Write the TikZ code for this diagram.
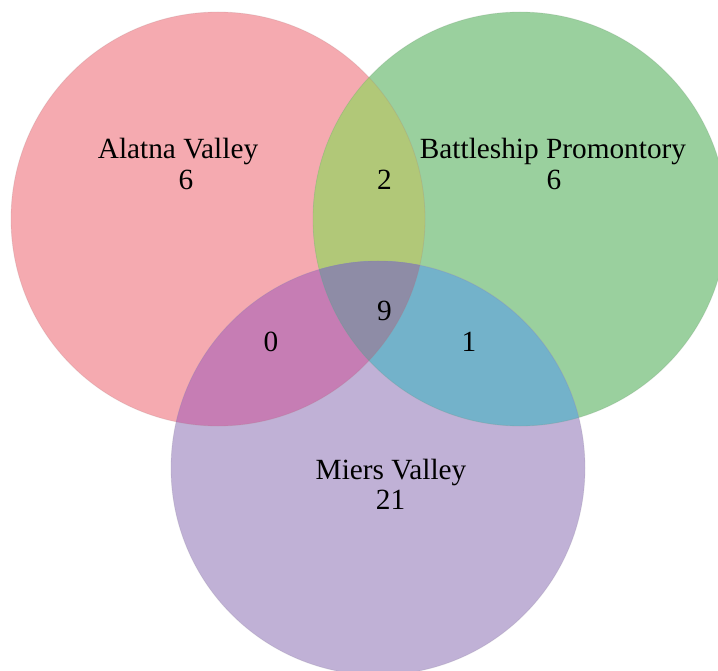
\documentclass[tikz,border=0pt]{standalone}
\usepackage{fontspec}
\setmainfont{Liberation Serif}
\definecolor{cR}{RGB}{245,170,176}
\definecolor{cG}{RGB}{154,208,158}
\definecolor{cP}{RGB}{192,177,214}
\definecolor{cRG}{RGB}{177,200,120}
\definecolor{cRP}{RGB}{198,125,180}
\definecolor{cGP}{RGB}{115,178,202}
\definecolor{cRGP}{RGB}{142,140,166}
\begin{document}
\begin{tikzpicture}[x=1pt,y=-1pt,
  lbl/.style={anchor=base,inner sep=0pt,font=\fontsize{29.3}{34}\selectfont},
  rim/.style={draw=#1,line width=0.8pt,draw opacity=0.2}]
\useasboundingbox (0,0) rectangle (718,671);
\fill[white] (0,0) rectangle (718,671);
\clip (0,0) rectangle (718,671);
% single regions
\fill[cR] (218,219) circle[radius=207pt];
\fill[cG] (520,219) circle[radius=207pt];
\fill[cP] (378,468) circle[radius=207pt];
% pairwise overlaps
\begin{scope}
  \clip (218,219) circle[radius=207pt];
  \fill[cRG] (520,219) circle[radius=207pt];
  \fill[cRP] (378,468) circle[radius=207pt];
\end{scope}
\begin{scope}
  \clip (520,219) circle[radius=207pt];
  \fill[cGP] (378,468) circle[radius=207pt];
\end{scope}
% triple overlap
\begin{scope}
  \clip (218,219) circle[radius=207pt];
  \clip (520,219) circle[radius=207pt];
  \fill[cRGP] (378,468) circle[radius=207pt];
\end{scope}
% faint rims
\draw[rim=cR!70!black] (218,219) circle[radius=207pt];
\draw[rim=cG!70!black] (520,219) circle[radius=207pt];
\draw[rim=cP!70!black] (378,468) circle[radius=207pt];
% labels
\node[lbl] (tA) at (178,159) {Alatna Valley};
\node[lbl] (nA) at (186,189.5) {6};
\node[lbl] (tB) at (553,159) {Battleship Promontory};
\node[lbl] (nB) at (554,189.5) {6};
\node[lbl] (nAB) at (384.5,189.5) {2};
\node[lbl] (nABC) at (384.5,320) {9};
\node[lbl] (nAC) at (271,351) {0};
\node[lbl] (nBC) at (469,351) {1};
\node[lbl] (tC) at (391,479) {Miers Valley};
\node[lbl] (nC) at (390.5,509) {21};
\end{tikzpicture}
\end{document}
